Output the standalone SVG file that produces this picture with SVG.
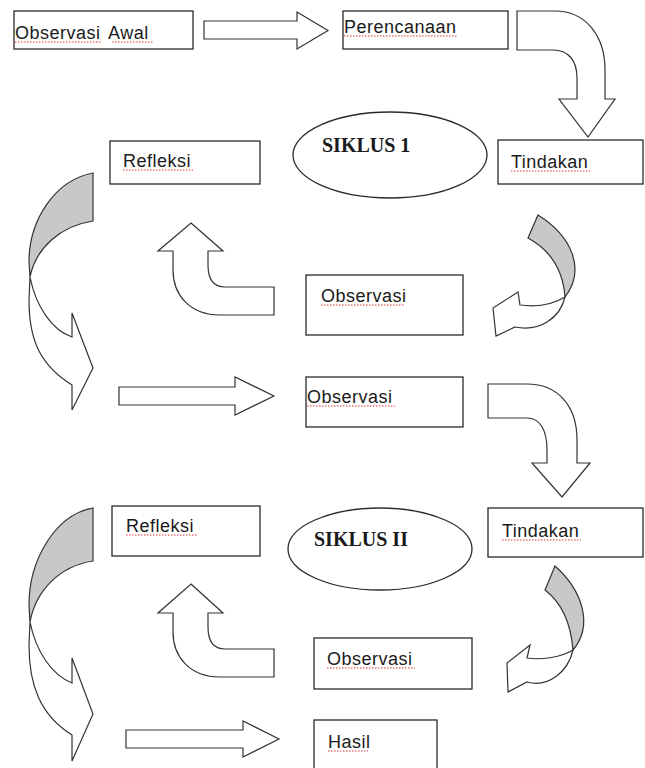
<svg xmlns="http://www.w3.org/2000/svg" width="645" height="768" viewBox="0 0 645 768">
<style>
.box{fill:#fff;stroke:#2a2a2a;stroke-width:1.3}
.lbl{font-family:"Liberation Sans",Arial,sans-serif;font-size:18px;fill:#1a1a1a;letter-spacing:0.5px}
.cyc{font-family:"Liberation Serif","Times New Roman",serif;font-size:20px;font-weight:bold;fill:#1a1a1a}
.arr{fill:#fff;stroke:#333;stroke-width:1.2;stroke-linejoin:miter}
.back{fill:#c8c8c8;stroke:#333;stroke-width:1.2}
.sp{fill:none;stroke:#d33;stroke-width:1;stroke-dasharray:1.5 1.5}
</style>
<rect width="645" height="768" fill="#fff"/>

<g id="connectors">
  <path class="arr" d="M204,21 L297,21 L297,12 L328,30.5 L297,49 L297,39 L204,39 Z"/>
  <path class="arr" d="M517,11 L555,11 C585,11 605,35 605,70 L605,99 L615,99 L588,137 L559,99 L577,99 L577,78 C577,60 568,50 553,50 L517,50 Z"/>
  <path class="back" d="M538,215 C570,235 587,268 565,297 C563,270 550,250 528,238 Z"/>
  <path class="arr" d="M565,297 C552,305 535,307 520,305 L518,292 L493,308 L496,336 L515,327 C540,332 560,318 565,297 Z"/>
  <path class="arr" d="M191,223 L223,251 L208,251 L208,265 Q208,287 225,287 L274,287 L274,315 L220,315 C190,315 173,295 173,270 L173,251 L158,251 Z"/>
  <path class="back" d="M93,173 C55,180 29,220 29,262 L30,277 C36,248 60,226 93,221 Z"/>
  <path class="arr" d="M30,277 C36,307 52,330 72,337 L72,313 L93,368 L72,410 L72,385 C40,365 29,340 29,300 L30,277 Z"/>
  <path class="arr" d="M119,387 L235,387 L235,377 L274,396 L235,415 L235,405 L119,405 Z"/>
  <path class="arr" d="M488,384 L527,384 C557,384 577,405 577,440 L577,463 L590,463 L562,497 L532,463 L547,463 L547,450 C547,430 540,418 527,418 L488,418 Z"/>
  <path class="back" d="M555,566 C582,590 594,625 573,650 C571,625 562,603 545,590 Z"/>
  <path class="arr" d="M573,650 C560,658 540,660 527,658 L530,645 L507,663 L508,692 L527,682 C548,688 568,672 573,650 Z"/>
  <path class="arr" d="M191,584 L223,613 L208,613 L208,627 Q208,649 225,649 L274,649 L274,677 L220,677 C190,677 173,657 173,632 L173,613 L158,613 Z"/>
  <path class="back" d="M93,508 C55,515 29,560 29,605 L30,622 C36,590 60,566 93,561 Z"/>
  <path class="arr" d="M30,622 C36,652 52,675 72,683 L72,658 L93,714 L72,761 L72,735 C40,715 29,685 29,645 L30,622 Z"/>
  <path class="arr" d="M126,730 L243,730 L243,721 L279,739 L243,757 L243,748 L126,748 Z"/>
</g>

<g id="observasi-awal">
  <rect class="box" x="14" y="11" width="179" height="38"/>
  <text class="lbl" x="15" y="39">Observasi <tspan dx="3">Awal</tspan></text>
  <path class="sp" d="M15,42 H101 M112,42 H153"/>
</g>
<g id="perencanaan">
  <rect class="box" x="343" y="11" width="165" height="38"/>
  <text class="lbl" x="344" y="33">Perencanaan</text>
  <path class="sp" d="M344,36 H458"/>
</g>
<g id="siklus-1">
  <ellipse class="box" cx="390" cy="155" rx="97" ry="43"/>
  <text class="cyc" x="322" y="152">SIKLUS 1</text>
</g>
<g id="tindakan-1">
  <rect class="box" x="498" y="140" width="145" height="44"/>
  <text class="lbl" x="511" y="168">Tindakan</text>
  <path class="sp" d="M511,171 H590"/>
</g>
<g id="refleksi-1">
  <rect class="box" x="110" y="141" width="150" height="43"/>
  <text class="lbl" x="123" y="167">Refleksi</text>
  <path class="sp" d="M123,170 H193"/>
</g>
<g id="observasi-1">
  <rect class="box" x="306" y="275" width="157" height="60"/>
  <text class="lbl" x="321" y="302">Observasi</text>
  <path class="sp" d="M321,305 H405"/>
</g>
<g id="observasi-2">
  <rect class="box" x="306" y="377" width="157" height="50"/>
  <text class="lbl" x="307" y="403">Observasi</text>
  <path class="sp" d="M307,406 H395"/>
</g>
<g id="refleksi-2">
  <rect class="box" x="112" y="506" width="148" height="50"/>
  <text class="lbl" x="126" y="532">Refleksi</text>
  <path class="sp" d="M126,535 H197"/>
</g>
<g id="siklus-2">
  <ellipse class="box" cx="380" cy="549" rx="92" ry="41"/>
  <text class="cyc" x="314" y="546">SIKLUS II</text>
</g>
<g id="tindakan-2">
  <rect class="box" x="488" y="508" width="155" height="49"/>
  <text class="lbl" x="502" y="537">Tindakan</text>
  <path class="sp" d="M502,540 H581"/>
</g>
<g id="observasi-3">
  <rect class="box" x="314" y="638" width="158" height="51"/>
  <text class="lbl" x="327" y="665">Observasi</text>
  <path class="sp" d="M327,668 H415"/>
</g>
<g id="hasil">
  <rect class="box" x="314" y="720" width="123" height="60"/>
  <text class="lbl" x="328" y="748">Hasil</text>
  <path class="sp" d="M328,751 H368"/>
</g>
</svg>
